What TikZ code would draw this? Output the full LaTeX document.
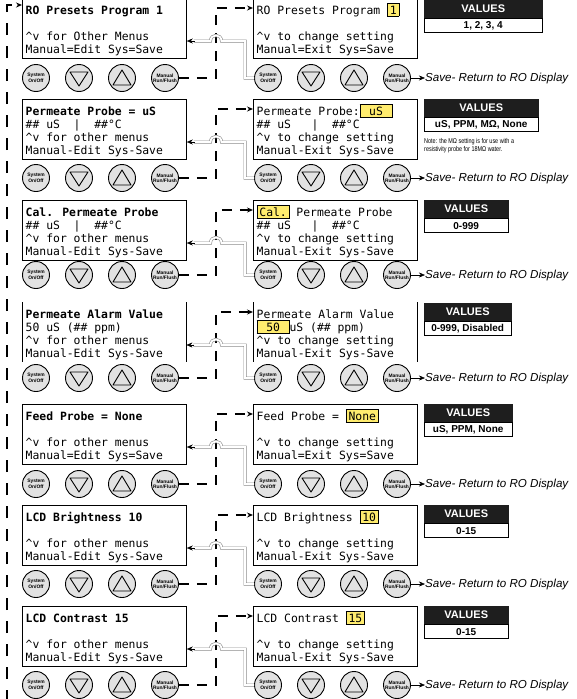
\documentclass[tikz,border=0pt]{standalone}
\usepackage{fontspec}
\setsansfont{Liberation Sans}
\newfontfamily\lcdfont{DejaVu Sans Mono}
\usetikzlibrary{arrows.meta, positioning, math}
\definecolor{keygray}{RGB}{226,226,226}
\definecolor{hlyellow}{RGB}{255,236,110}
\definecolor{valblack}{RGB}{30,30,30}
\definecolor{linkgray}{RGB}{140,140,140}

\newcommand{\hl}[1]{{\setlength{\fboxsep}{2pt}\setlength{\fboxrule}{0.7pt}\fcolorbox{black}{hlyellow}{#1}}}

\tikzset{
  lcdbox/.style={draw, line width=0.8pt, minimum width=164pt, minimum height=60pt, anchor=north west, inner sep=0pt},
  lcdopen/.style={minimum width=164pt, minimum height=60pt, anchor=north west, inner sep=0pt},
  lcdline/.style={anchor=base west, inner sep=0pt, font=\lcdfont\fontsize{11.4}{13}\selectfont},
  key/.style={circle, draw, line width=0.9pt, fill=keygray, minimum size=27pt, inner sep=0pt, align=center, font=\sffamily\bfseries\fontsize{4.9}{5.4}\selectfont},
  keyline/.style={line width=0.9pt, line join=round},
  valhead/.style={draw=valblack, fill=valblack, text=white, anchor=north west, minimum height=18pt, inner sep=0pt, font=\sffamily\bfseries\fontsize{11}{12}\selectfont},
  valbody/.style={draw, line width=0.8pt, fill=white, minimum height=14pt, inner sep=0pt, font=\sffamily\bfseries\fontsize{10}{11}\selectfont},
  notetext/.style={anchor=base west, inner sep=0pt, font=\sffamily\fontsize{7}{8}\selectfont},
  menulink/.style={line width=1.5pt, dash pattern=on 10pt off 8pt},
  looplink/.style={line width=2pt, dash pattern=on 12pt off 11pt},
  editlink/.style={draw=linkgray, double=white, double distance=1.8pt, line width=0.6pt},
  savetext/.style={inner sep=0pt, font=\sffamily\itshape\fontsize{11.6}{12}\selectfont},
  hand/.style={-{Stealth[length=6pt, width=5pt]}}
}

% one display: box and four text lines
\newcommand{\lcd}[8][lcdbox]{%
  \node[#1] (#2) at (#3,#4) {};
  \node[lcdline] (#2-a) at (#3+3.5,#4+16) {#5};
  \node[lcdline] (#2-b) at (#3+3.5,#4+29) {#6};
  \node[lcdline] (#2-c) at (#3+3.5,#4+42) {#7};
  \node[lcdline] (#2-d) at (#3+3.5,#4+55) {#8};
}

% the four keys under a display
\newcommand{\keypad}[3]{%
  \node[key] (#1-s) at (#2,#3) {System\\On/Off};
  \node[key] (#1-d) at (#2+43,#3) {};
  \node[key] (#1-u) at (#2+86,#3) {};
  \node[key] (#1-m) at (#2+129,#3) {Manual\\Run/Flush};
  \draw[keyline] ([shift={(-9,-6)}]#1-d.center) -- ([shift={(9,-6)}]#1-d.center) -- ([shift={(0,8)}]#1-d.center) -- cycle;
  \draw[keyline] ([shift={(-9,7)}]#1-u.center) -- ([shift={(9,7)}]#1-u.center) -- ([shift={(0,-8)}]#1-u.center) -- cycle;
}

\newcommand{\valuebox}[4]{%
  \node[valhead, minimum width=#3pt] (#1) at (424,#2) {VALUES};
  \node[valbody, minimum width=#3pt, below=0pt of #1] (#1-b) {#4};
}

\begin{document}
\begin{tikzpicture}[x=1pt, y=-1pt]
\tikzmath{
\jx=216;
\tx=245;
}
\useasboundingbox (0,0) rectangle (576,699);

\lcd{menu1}{22}{-2}{\textbf{RO Presets Program 1}}{}{\textasciicircum v for Other Menus}{Manual=Edit Sys=Save}
\lcd{edit1}{253}{-2}{RO Presets Program \hl{1}}{}{\textasciicircum v to change setting}{Manual=Exit Sys=Save}
\valuebox{val1}{0}{118}{1, 2, 3, 4}

\lcd{menu2}{22}{99}{\textbf{Permeate Probe = uS}}{\#\# uS~~|~~\#\#°C}{\textasciicircum v for other menus}{Manual-Edit Sys-Save}
\lcd{edit2}{253}{99}{Permeate Probe:\hl{~uS~}}{\#\# uS~~~|~~\#\#°C}{\textasciicircum v to change setting}{Manual-Exit Sys-Save}
\valuebox{val2}{99}{114}{uS, PPM, MΩ, None}
\node[notetext] (note-a) at (424,143) {\scalebox{0.78}[1]{Note: the MΩ setting is for use with a}};
\node[notetext] (note-b) at (424,151) {\scalebox{0.78}[1]{resistivity probe for 18MΩ water.}};

\lcd{menu3}{22}{200}{\textbf{Cal. Permeate Probe}}{\#\# uS~~|~~\#\#°C}{\textasciicircum v for other menus}{Manual-Edit Sys-Save}
\lcd{edit3}{253}{200}{\hl{Cal.} Permeate Probe}{\#\# uS~~~|~~\#\#°C}{\textasciicircum v to change setting}{Manual-Exit Sys-Save}
\valuebox{val3}{200}{84}{0-999}

\lcd[lcdopen]{menu4}{22}{302}{\textbf{Permeate Alarm Value}}{50 uS (\#\# ppm)}{\textasciicircum v for other menus}{Manual-Edit Sys-Save}
\lcd[lcdopen]{edit4}{253}{302}{Permeate Alarm Value}{\hl{~50~}uS (\#\# ppm)}{\textasciicircum v to change setting}{Manual-Exit Sys-Save}
\draw[line width=0.8pt] (menu4.north west) -- (menu4.south west) (menu4.north east) -- (menu4.south east);
\draw[line width=0.8pt] (edit4.north west) -- (edit4.south west) (edit4.north east) -- (edit4.south east);
\valuebox{val4}{303}{87}{0-999, Disabled}

\lcd{menu5}{22}{404}{\textbf{Feed Probe = None}}{}{\textasciicircum v for other menus}{Manual=Edit Sys=Save}
\lcd{edit5}{253}{404}{Feed Probe = \hl{None}}{}{\textasciicircum v to change setting}{Manual=Exit Sys=Save}
\valuebox{val5}{404}{88}{uS, PPM, None}

\lcd{menu6}{22}{505}{\textbf{LCD Brightness 10}}{}{\textasciicircum v for other menus}{Manual-Edit Sys-Save}
\lcd{edit6}{253}{505}{LCD Brightness \hl{10}}{}{\textasciicircum v to change setting}{Manual-Exit Sys-Save}
\valuebox{val6}{505}{84}{0-15}

\lcd{menu7}{22}{606}{\textbf{LCD Contrast 15}}{}{\textasciicircum v for other menus}{Manual-Edit Sys-Save}
\lcd{edit7}{253}{606}{LCD Contrast \hl{15}}{}{\textasciicircum v to change setting}{Manual-Exit Sys-Save}
\valuebox{val7}{606}{84}{0-15}

\foreach \rw/\tp/\ky in {1/-2/78, 2/99/178, 3/200/275, 4/302/378, 5/404/484, 6/505/584, 7/606/685}{
  \keypad{mk\rw}{36}{\ky}
  \keypad{ek\rw}{268}{\ky}
  \coordinate (hop\rw) at (\jx,\tp+43);
  \coordinate (turn\rw) at (\tx,\ky);
  \coordinate (dock\rw) at (menu\rw.east |- hop\rw);
  % Manual: into the edit screen
  \draw[menulink, hand] (mk\rw-m.east) -| (hop\rw) |- ([yshift=-10pt]edit\rw.north west);
  % System: save and back to the menu
  \draw[editlink] (ek\rw-s.west) -- (turn\rw) |- ([xshift=5.5pt]hop\rw) .. controls +(0,-7.5) and +(0,-7.5) .. ([xshift=-5.5pt]hop\rw) -- ([xshift=7pt]dock\rw);
  \draw[hand] ([xshift=8pt]dock\rw) -- (dock\rw);
  \node[savetext, right=14pt of ek\rw-m] (sv\rw) {Save- Return to RO Display};
  \draw[hand] (ek\rw-m) -- (sv\rw);
}

% back to the first menu
\coordinate (loopfoot) at (7,702);
\draw[looplink, hand] (loopfoot) |- ([yshift=-7pt]menu1.north west);

\end{tikzpicture}
\end{document}
